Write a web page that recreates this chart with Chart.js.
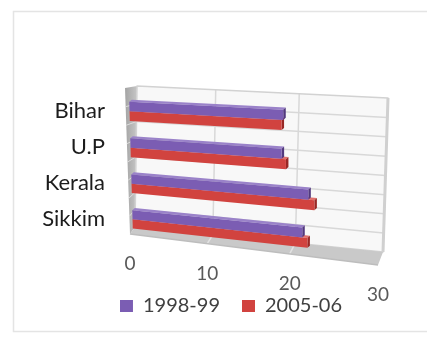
<!DOCTYPE html>
<html>
<head>
<meta charset="utf-8">
<script src="https://cdn.jsdelivr.net/npm/chart.js@4/dist/chart.umd.min.js"></script>
<style>
  html, body { margin: 0; padding: 0; background: #ffffff; }
  #wrap { width: 427px; height: 339px; position: relative; }
</style>
</head>
<body>
<div id="wrap"><canvas id="chart" width="427" height="339"></canvas></div>
<script>
// Data
const categories = ['Bihar', 'U.P', 'Kerala', 'Sikkim'];
const seriesNames = ['1998-99', '2005-06'];
const values1998 = [19.2, 19.0, 22.1, 21.4];
const values2005 = [19.0, 19.5, 22.8, 22.0];
const valueTicks = [0, 10, 20, 30];

// Colours of each series: front face, top face, end face
const seriesColors = ['#7b5db3', '#d1433f'];
const topShades = ['#9a82c9', '#e0716d'];
const endShades = ['#52397e', '#982724'];

// Perspective: corner offsets (TL, TR, BR, BL) of each plane from the flat plot area
const planes = {
  bars:  [[0, 0], [0, 12], [-2, 28], [4, 0]],
  wall:  [[8, -7], [8, 5], [3, 15], [6, -10]],
  front: [[-4, -5], [0, 11], [-2, 28], [1, -3]]
};
const barDepth = [2.5, -2.2];

// Unit square -> quadrilateral projective map
function quadMap(q) {
  const [p0, p1, p2, p3] = q;
  const dx1 = p1[0] - p2[0], dx2 = p3[0] - p2[0], dx3 = p0[0] - p1[0] + p2[0] - p3[0];
  const dy1 = p1[1] - p2[1], dy2 = p3[1] - p2[1], dy3 = p0[1] - p1[1] + p2[1] - p3[1];
  const den = dx1 * dy2 - dx2 * dy1;
  const g = (dx3 * dy2 - dx2 * dy3) / den;
  const h = (dx1 * dy3 - dx3 * dy1) / den;
  const a = p1[0] - p0[0] + g * p1[0], b = p3[0] - p0[0] + h * p3[0], c = p0[0];
  const d = p1[1] - p0[1] + g * p1[1], e = p3[1] - p0[1] + h * p3[1], f = p0[1];
  return (u, v) => {
    const w = g * u + h * v + 1;
    return [(a * u + b * v + c) / w, (d * u + e * v + f) / w];
  };
}

function polyPath(ctx, pts) {
  ctx.beginPath();
  ctx.moveTo(pts[0][0], pts[0][1]);
  for (let i = 1; i < pts.length; i++) ctx.lineTo(pts[i][0], pts[i][1]);
  ctx.closePath();
}
function fillPoly(ctx, pts, color) {
  polyPath(ctx, pts);
  ctx.fillStyle = color;
  ctx.fill();
}
function line(ctx, p, q, color, width) {
  ctx.beginPath();
  ctx.moveTo(p[0], p[1]);
  ctx.lineTo(q[0], q[1]);
  ctx.strokeStyle = color;
  ctx.lineWidth = width;
  ctx.stroke();
}

const perspectivePlugin = {
  id: 'perspective3d',
  beforeDraw(chart) {
    // light outer frame
    const { ctx, width, height } = chart;
    ctx.save();
    ctx.strokeStyle = '#e4e4e4';
    ctx.lineWidth = 1.5;
    ctx.strokeRect(13.5, 11.5, width, height - 19);
    ctx.restore();
  },
  beforeDatasetsDraw(chart) {
    const { ctx, chartArea: area, scales } = chart;
    const xs = scales.x;
    const w = area.right - area.left, h = area.bottom - area.top;
    const corners = [[area.left, area.top], [area.right, area.top], [area.right, area.bottom], [area.left, area.bottom]];
    const quad = offs => corners.map((p, i) => [p[0] + offs[i][0], p[1] + offs[i][1]]);
    const W = quadMap(quad(planes.wall));
    const F = quadMap(quad(planes.front));
    const B = quadMap(quad(planes.bars));
    const uOf = v => (xs.getPixelForValue(v) - area.left) / w;
    const bands = categories.length * 2;

    ctx.save();
    ctx.lineJoin = 'round';

    // side wall
    const sideGrad = ctx.createLinearGradient(F(0, 0)[0], 0, W(0, 0)[0], 0);
    sideGrad.addColorStop(0, '#a4a4a4');
    sideGrad.addColorStop(1, '#c6c6c6');
    fillPoly(ctx, [W(0, 0), W(0, 1), F(0, 1), F(0, 0)], sideGrad);
    for (let k = 1; k < bands; k++) {
      line(ctx, W(0, k / bands), F(0, k / bands), '#dcdcdc', 1);
    }

    // back wall
    fillPoly(ctx, [W(0, 0), W(1, 0), W(1, 1), W(0, 1)], '#f8f8f8');
    for (let k = 1; k < bands; k++) {
      line(ctx, W(0, k / bands), W(1, k / bands), '#d8d8d8', 1.5);
    }
    valueTicks.forEach(t => {
      const u = uOf(t);
      if (u > 0.001 && u < 0.999) line(ctx, W(u, 0), W(u, 1), '#d8d8d8', 1.5);
    });
    polyPath(ctx, [W(0, 0), W(1, 0), W(1, 1), W(0, 1)]);
    ctx.strokeStyle = '#d2d2d2';
    ctx.lineWidth = 1.5;
    ctx.stroke();
    line(ctx, W(1, 0), W(1, 1), '#d0d0d0', 3);

    // floor
    fillPoly(ctx, [W(0, 1), W(1, 1), F(1, 1), F(0, 1)], '#c9c9c9');
    valueTicks.forEach(t => {
      const u = uOf(t);
      if (u > 0.001 && u < 0.999) line(ctx, W(u, 1), F(u, 1), '#e2e2e2', 1.5);
    });
    line(ctx, F(0, 1), F(1, 1), '#bdbdbd', 1.5);

    // bars: lower series first so the upper one hides its top face
    for (let di = chart.data.datasets.length - 1; di >= 0; di--) {
      const meta = chart.getDatasetMeta(di);
      if (meta.hidden) continue;
      meta.data.forEach(el => {
        const p = el.getProps(['x', 'y', 'base', 'height'], true);
        const u0 = (p.base - area.left) / w, u1 = (p.x - area.left) / w;
        const v0 = (p.y - p.height / 2 - area.top) / h, v1 = (p.y + p.height / 2 - area.top) / h;
        const a = B(u0, v0), b = B(u1, v0), c = B(u1, v1), d = B(u0, v1);
        const shift = q => [q[0] + barDepth[0], q[1] + barDepth[1]];
        fillPoly(ctx, [a, b, shift(b), shift(a)], topShades[di]);
        fillPoly(ctx, [b, shift(b), shift(c), c], endShades[di]);
        fillPoly(ctx, [a, b, c, d], seriesColors[di]);
      });
    }

    // value tick labels along the floor's front edge
    ctx.font = '19px Lato';
    ctx.fillStyle = '#595959';
    ctx.textAlign = 'center';
    ctx.textBaseline = 'middle';
    valueTicks.forEach(t => {
      const q = F(uOf(t), 1);
      ctx.fillText(String(t), q[0], q[1] + 30);
    });
    ctx.restore();
    return false;
  }
};

new Chart(document.getElementById('chart'), {
  type: 'bar',
  data: {
    labels: categories,
    datasets: [
      { label: seriesNames[0], data: values1998, backgroundColor: seriesColors[0], borderWidth: 0 },
      { label: seriesNames[1], data: values2005, backgroundColor: seriesColors[1], borderWidth: 0 }
    ]
  },
  options: {
    indexAxis: 'y',
    responsive: false,
    animation: false,
    devicePixelRatio: 1,
    events: [],
    datasets: { bar: { categoryPercentage: 0.52, barPercentage: 1.0 } },
    layout: { padding: { left: 35, right: 0, top: 93, bottom: 13 } },
    scales: {
      x: {
        type: 'linear', min: 0, max: 30,
        ticks: { display: false, stepSize: 10 },
        grid: { display: false },
        border: { display: false },
        afterFit: s => { s.height = 37; }
      },
      y: {
        type: 'category',
        ticks: { font: { family: 'Lato', size: 22 }, color: '#1c1c1c', padding: 16 },
        grid: { display: false },
        border: { display: false },
        afterFit: s => { s.width = 94; }
      },
      yRight: {
        type: 'linear', position: 'right', display: true,
        ticks: { display: false },
        grid: { display: false },
        border: { display: false },
        afterFit: s => { s.width = 47; }
      }
    },
    plugins: {
      legend: {
        position: 'bottom',
        labels: {
          font: { family: 'Lato', size: 20 },
          color: '#404040',
          boxWidth: 13,
          boxHeight: 12,
          padding: 22
        }
      },
      tooltip: { enabled: false }
    }
  },
  plugins: [perspectivePlugin]
});
</script>
</body>
</html>
